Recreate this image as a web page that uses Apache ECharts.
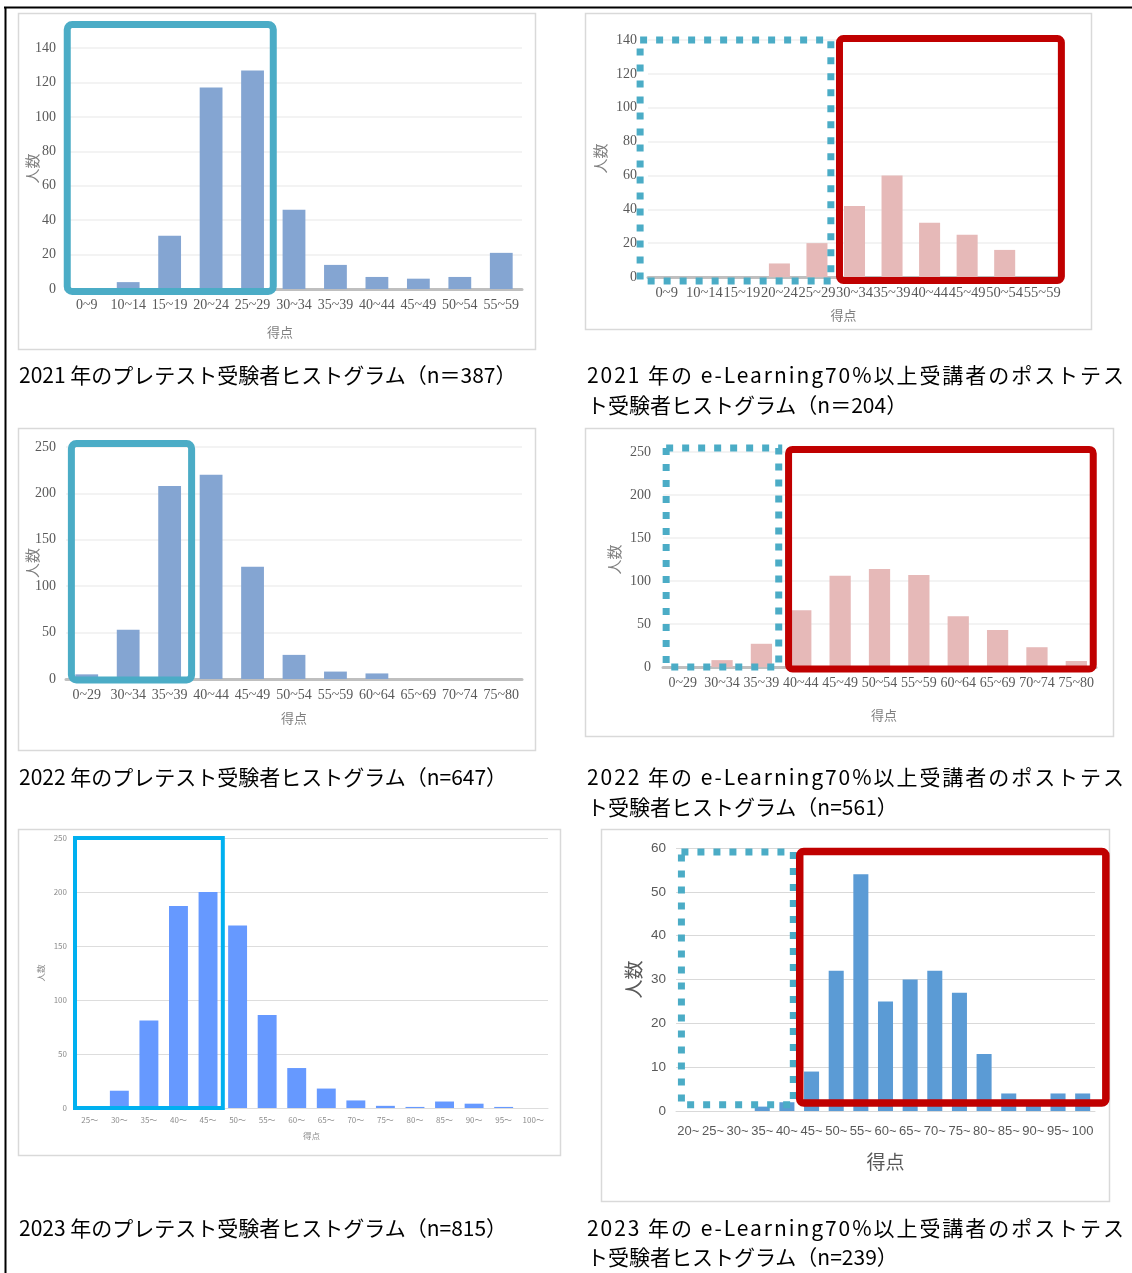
<!DOCTYPE html>
<html>
<head>
<meta charset="utf-8">
<script src="https://cdn.jsdelivr.net/npm/echarts@6/dist/echarts.min.js"></script>
<style>
  html, body { margin: 0; padding: 0; background: #fff; }
  #wrap { position: relative; width: 1132px; height: 1273px; overflow: hidden; }
  #chart { position: absolute; left: 0; top: 0; width: 1132px; height: 1273px; }
  .cap { position: absolute; font-family: "Noto Sans CJK JP", sans-serif; font-size: 21px;
         line-height: 30px; color: #000; white-space: nowrap; }
</style>
</head>
<body>
<div id="wrap"><div id="chart"></div></div>
<script>
// ---- score bins (category labels) ----
const bins2021 = ['0~9', '10~14', '15~19', '20~24', '25~29', '30~34', '35~39', '40~44', '45~49', '50~54', '55~59'];
const bins2022 = ['0~29', '30~34', '35~39', '40~44', '45~49', '50~54', '55~59', '60~64', '65~69', '70~74', '75~80'];
const binsPre2023 = ['25～', '30～', '35～', '40～', '45～', '50～', '55～', '60～', '65～', '70～', '75～', '80～', '85～', '90～', '95～', '100～'];
const binsPost2023 = ['20~', '25~', '30~', '35~', '40~', '45~', '50~', '55~', '60~', '65~', '70~', '75~', '80~', '85~', '90~', '95~', '100'];

// ---- head counts per bin ----
const pre2021 = [0, 4, 31, 117, 127, 46, 14, 7, 6, 7, 21];
const post2021 = [0, 0, 0, 8, 20, 42, 60, 32, 25, 16, 0];
const pre2022 = [5, 53, 208, 220, 121, 26, 8, 6, 0, 0, 0];
const post2022 = [0, 8, 27, 66, 106, 114, 107, 59, 43, 23, 7];
const pre2023 = [0, 16, 81, 187, 200, 169, 86, 37, 18, 7, 2, 1, 6, 4, 1, 0];
const post2023 = [0, 0, 0, 1, 2, 9, 32, 54, 25, 30, 32, 27, 13, 4, 2, 4, 4];

// ---- value-axis ranges ----
const yMax = [140, 140, 250, 250, 250, 60];
const yStep = [20, 20, 50, 50, 50, 10];

// ---- captions ----
const capPre = [
  '2021 年のプレテスト受験者ヒストグラム（n＝387）',
  '2022 年のプレテスト受験者ヒストグラム（n=647）',
  '2023 年のプレテスト受験者ヒストグラム（n=815）'
];
const capPostLine1 = [
  '2021 年の e-Learning70%以上受講者のポストテス',
  '2022 年の e-Learning70%以上受講者のポストテス',
  '2023 年の e-Learning70%以上受講者のポストテス'
];
const capPostLine2 = [
  'ト受験者ヒストグラム（n＝204）',
  'ト受験者ヒストグラム（n=561）',
  'ト受験者ヒストグラム（n=239）'
];

// ---- visual styles ----
const SERIF = {
  font: 'Liberation Serif', label: '#595959', xSize: 14, ySize: 14,
  grid: '#EFEFEF', gridW: 1.5, axis: '#BFBFBF', axisW: 3,
  nameFont: 'Noto Sans CJK JP', nameColor: '#7F7F7F'
};
const SMALL = {
  font: 'Noto Sans CJK JP', label: '#8C8C8C', xSize: 8, ySize: 8,
  grid: '#DDDDDD', gridW: 1, axis: '#DDDDDD', axisW: 1,
  nameFont: 'Noto Sans CJK JP', nameColor: '#8C8C8C'
};
const CAL = {
  font: 'Liberation Sans', label: '#595959', xSize: 13, ySize: 13.5,
  grid: '#D9D9D9', gridW: 1, axis: '#D9D9D9', axisW: 1,
  nameFont: 'Noto Sans CJK JP', nameColor: '#595959'
};

const panels = [
  { cats: bins2021, vals: pre2021, color: '#84A5D2', s: SERIF, plot: [66, 48, 456, 241], barW: '55%',
    xMargin: 9, yMargin: 10, xName: { gap: 37, size: 13, pad: [0, 28, 0, 0] }, yName: { gap: 26, size: 15 },
    frame: [18, 13, 517, 336] },
  { cats: bins2021, vals: post2021, color: '#E6B9B8', s: Object.assign({}, SERIF, { xSize: 14.5 }), plot: [648, 40, 413, 237], barW: '56%',
    xMargin: 9, yMargin: 11, xName: { gap: 32, size: 13, pad: [0, 22, 0, 0] }, yName: { gap: 40, size: 15 },
    frame: [585, 13, 506, 316] },
  { cats: bins2022, vals: pre2022, color: '#84A5D2', s: SERIF, plot: [66, 447, 456, 232], barW: '55%',
    xMargin: 9, yMargin: 10, xName: { gap: 33, size: 13, pad: [0, 0, 0, 0] }, yName: { gap: 26, size: 15 },
    frame: [18, 428, 517, 322] },
  { cats: bins2022, vals: post2022, color: '#E6B9B8', s: SERIF, plot: [663, 452, 433, 215], barW: '54%',
    xMargin: 9, yMargin: 12, xName: { gap: 42, size: 13, pad: [0, 0, 0, 9] }, yName: { gap: 41, size: 15 },
    frame: [585, 428, 528, 308] },
  { cats: binsPre2023, vals: pre2023, color: '#6699FF', s: SMALL, plot: [75, 838, 473, 270], barW: '64%',
    xMargin: 8, yMargin: 8, xName: { gap: 24, size: 8.5, pad: [0, 0, 0, 0] }, yName: { gap: 30, size: 8.5 },
    frame: [18, 829, 542, 326] },
  { cats: binsPost2023, vals: post2023, color: '#5B9BD5', s: CAL, plot: [676, 848, 419, 263], barW: '61%',
    xMargin: 14, yMargin: 10, xName: { gap: 41, size: 19, pad: [0, 0, 0, 0] }, yName: { gap: 33, size: 19 },
    frame: [601, 829, 508, 372] }
];

// Highlight frames: x in bin units from the axis start, y in axis values
const TEAL = '#4BACC6', RED = '#C00000', CYAN = '#00B0F0';
const frames = [
  { p: 0, x0: 0.03, x1: 5.0, y0: 153.7, y1: -1.5, color: TEAL, w: 7, r: 5 },
  { p: 1, x0: -0.21, x1: 4.87, y0: 140, y1: -2.4, color: TEAL, w: 7, dash: [7, 9] },
  { p: 1, x0: 5.1, x1: 11.01, y0: 140.9, y1: -2.1, color: RED, w: 7, r: 4 },
  { p: 2, x0: 0.13, x1: 3.03, y0: 253.8, y1: -1, color: TEAL, w: 7, r: 5 },
  { p: 3, x0: 0.08, x1: 2.94, y0: 254.6, y1: 0, color: TEAL, w: 7, dash: [7, 9] },
  { p: 3, x0: 3.19, x1: 10.93, y0: 253, y1: -2.3, color: RED, w: 7, r: 4 },
  { p: 4, x0: 0.0, x1: 5.0, y0: 250, y1: 0, color: CYAN, w: 4, r: 0 },
  { p: 5, x0: 0.22, x1: 4.76, y0: 59.1, y1: 1.4, color: TEAL, w: 7, dash: [7, 9] },
  { p: 5, x0: 5.02, x1: 17.44, y0: 59.2, y1: 1.8, color: RED, w: 7.5, r: 4 }
];

const chart = echarts.init(document.getElementById('chart'), null, { renderer: 'canvas' });
const option = { animation: false, grid: [], xAxis: [], yAxis: [], series: [] };

panels.forEach((p, i) => {
  const s = p.s;
  option.grid.push({
    left: p.plot[0], top: p.plot[1], width: p.plot[2], height: p.plot[3],
    containLabel: false, outerBoundsMode: 'none'
  });
  option.xAxis.push({
    type: 'category', gridIndex: i, data: p.cats, boundaryGap: true,
    axisTick: { show: false },
    axisLine: { lineStyle: { color: s.axis, width: s.axisW } },
    axisLabel: { interval: 0, margin: p.xMargin, fontFamily: s.font, fontSize: s.xSize, color: s.label, hideOverlap: false },
    splitLine: { show: false },
    name: '得点', nameLocation: 'middle', nameGap: p.xName.gap, nameMoveOverlap: false,
    nameTextStyle: { fontFamily: s.nameFont, fontSize: p.xName.size, color: s.nameColor, padding: p.xName.pad }
  });
  option.yAxis.push({
    type: 'value', gridIndex: i, min: 0, max: yMax[i], interval: yStep[i],
    axisLine: { show: false }, axisTick: { show: false },
    splitLine: { show: true, lineStyle: { color: s.grid, width: s.gridW } },
    axisLabel: { margin: p.yMargin, fontFamily: s.font, fontSize: s.ySize, color: s.label },
    name: '人数', nameLocation: 'middle', nameRotate: 90, nameGap: p.yName.gap, nameMoveOverlap: false,
    nameTextStyle: { fontFamily: s.nameFont, fontSize: p.yName.size, color: s.nameColor }
  });
  option.series.push({
    type: 'bar', xAxisIndex: i, yAxisIndex: i, data: p.vals, barWidth: p.barW,
    itemStyle: { color: p.color }, silent: true, z: 2
  });
});

chart.setOption(option);

// frame helpers built on the axis scales
function binX(i, pos) {
  const c0 = chart.convertToPixel({ xAxisIndex: i }, panels[i].cats[0]);
  const c1 = chart.convertToPixel({ xAxisIndex: i }, panels[i].cats[1]);
  const band = c1 - c0;
  return c0 - band / 2 + pos * band;
}
function valY(i, v) { return chart.convertToPixel({ yAxisIndex: i }, v); }

const graphics = [];
// page rules
graphics.push({ type: 'line', silent: true, z: 50, shape: { x1: 4, y1: 7.5, x2: 1132, y2: 7.5 }, style: { stroke: '#000', lineWidth: 2 } });
graphics.push({ type: 'line', silent: true, z: 50, shape: { x1: 5.5, y1: 7, x2: 5.5, y2: 1273 }, style: { stroke: '#000', lineWidth: 2 } });
// panel outlines
panels.forEach(p => {
  const f = p.frame;
  graphics.push({ type: 'rect', silent: true, z: 1, shape: { x: f[0] + 0.5, y: f[1] + 0.5, width: f[2], height: f[3] },
    style: { fill: 'none', stroke: '#D9D9D9', lineWidth: 1.5 } });
});
// highlight frames
frames.forEach(b => {
  const x0 = binX(b.p, b.x0), x1 = binX(b.p, b.x1);
  const y0 = valY(b.p, b.y0), y1 = valY(b.p, b.y1);
  const st = { fill: 'none', stroke: b.color, lineWidth: b.w };
  if (b.dash) { st.lineDash = b.dash; st.lineCap = 'butt'; }
  graphics.push({ type: 'rect', silent: true, z: 100,
    shape: { x: x0, y: y0, width: x1 - x0, height: y1 - y0, r: b.r || 0 }, style: st });
});
chart.setOption({ graphic: graphics });

// captions under each histogram
const wrap = document.getElementById('wrap');
const leftY = [374, 776, 1227];
const rightY = [[374, 404], [776, 806], [1227, 1256]];
function addCap(text, x, cy, fitWidth) {
  const d = document.createElement('div');
  d.className = 'cap';
  d.style.left = x + 'px';
  d.style.top = (cy - 15) + 'px';
  d.textContent = text;
  wrap.appendChild(d);
  if (fitWidth) {
    // spread the characters evenly so the line fills the column
    const natural = d.getBoundingClientRect().width;
    const n = Array.from(text).length;
    d.style.letterSpacing = ((fitWidth - natural) / (n - 1)) + 'px';
  }
}
capPre.forEach((t, k) => addCap(t, 19, leftY[k]));
capPostLine1.forEach((t, k) => addCap(t, 587, rightY[k][0], 537));
capPostLine2.forEach((t, k) => addCap(t, 587, rightY[k][1]));
</script>
</body>
</html>
